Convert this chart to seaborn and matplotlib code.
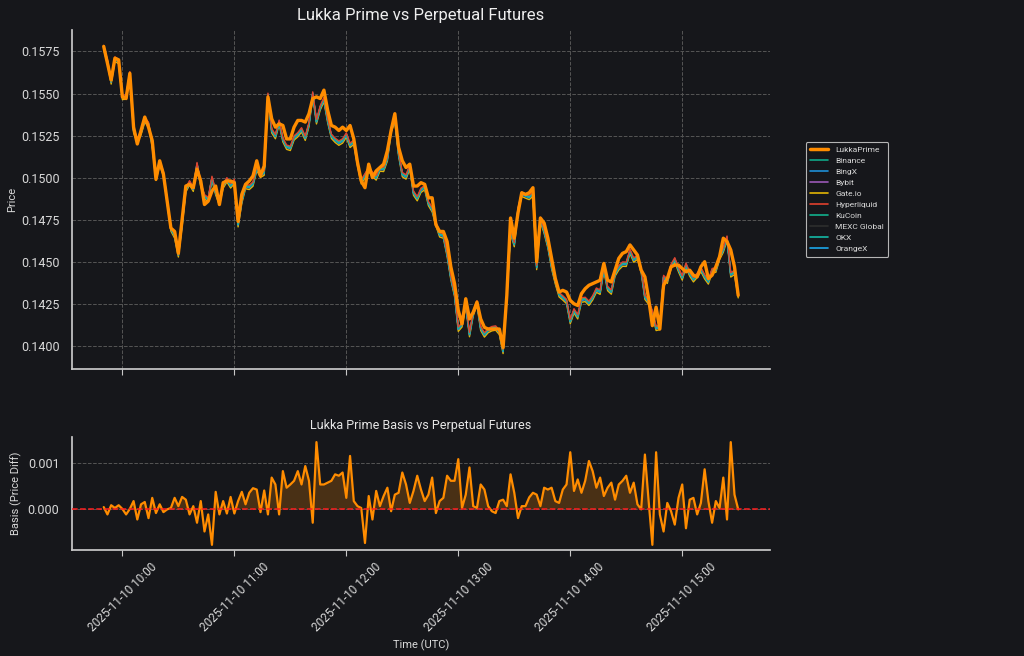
import numpy as np
import pandas as pd
import matplotlib
matplotlib.use("Agg")
import matplotlib.pyplot as plt
import matplotlib.dates as mdates
from matplotlib.lines import Line2D
from matplotlib.ticker import MultipleLocator, FormatStrFormatter
import seaborn as sns

# ---------------- data ----------------
start_time = "2025-11-10 09:50"
step = "2min"

lukka_price = [
    0.1578, 0.1568, 0.1558, 0.1571, 0.1570, 0.1548, 0.1547, 0.1562, 0.1530, 0.1520,
    0.1528, 0.1536, 0.1530, 0.1522, 0.1499, 0.1510, 0.1502, 0.1486, 0.1470, 0.1468,
    0.1455, 0.1475, 0.1495, 0.1496, 0.1494, 0.1505, 0.1498, 0.1484, 0.1486, 0.1492,
    0.1495, 0.1484, 0.1497, 0.1498, 0.1498, 0.1497, 0.1474, 0.1490, 0.1496, 0.1498,
    0.1501, 0.1510, 0.1501, 0.1507, 0.1548, 0.1535, 0.1530, 0.1532, 0.1531, 0.1523,
    0.1523, 0.1530, 0.1534, 0.1534, 0.1533, 0.1538, 0.1547,
    0.1548, 0.1547, 0.1552, 0.1540, 0.1531, 0.1530, 0.1528, 0.1530, 0.1528, 0.1531,
    0.1523, 0.1509, 0.1498, 0.1494, 0.1508, 0.1500, 0.1504, 0.1506, 0.1508, 0.1516,
    0.1528, 0.1538, 0.1518, 0.1510, 0.1506, 0.1508, 0.1495, 0.1495, 0.1497, 0.1496,
    0.1488, 0.1488, 0.1472, 0.1468, 0.1468, 0.1462, 0.1447, 0.1437, 0.1421, 0.1413,
    0.1428, 0.1416, 0.1420, 0.1426, 0.1416, 0.1411, 0.1410, 0.1410, 0.1410, 0.1410,
    0.1399, 0.1430, 0.1476, 0.1464, 0.1479, 0.1491,
    0.1490, 0.1491, 0.1494, 0.1450, 0.1476, 0.1473, 0.1464, 0.1452, 0.1440, 0.1432,
    0.1433, 0.1432, 0.1427, 0.1425, 0.1424, 0.1431, 0.1434, 0.1436, 0.1437, 0.1438,
    0.1439, 0.1449, 0.1439, 0.1438, 0.1445, 0.1452, 0.1455, 0.1456, 0.1460, 0.1457,
    0.1454, 0.1445, 0.1441, 0.1428, 0.1412, 0.1423, 0.1410, 0.1436, 0.1440, 0.1447,
    0.1448, 0.1448, 0.1446, 0.1444, 0.1445, 0.1442, 0.1441, 0.1447, 0.1450, 0.1440,
    0.1442, 0.1447, 0.1453, 0.1464, 0.1462, 0.1457, 0.1447, 0.1430,
]

basis = [
    0.00004, -0.00012, 0.00008, 0.00002, 0.00008, 0.0, -0.00012, 0.0, 0.00017, -0.00023,
    0.0001, 0.00015, -0.0002, 0.00024, -0.00009, 0.0001, -0.00007, -0.00001, 0.00002, 0.00024,
    0.00006, 0.00026, 0.0002, -0.00012, 0.00006, -0.0003, 0.00017, -0.00049, -0.00012, -0.00078,
    0.00037, -0.00012, 0.00017, -0.0001, 0.00026, -0.0001, 0.00017, 0.00037, 0.0001, 0.00035,
    0.00045, 0.00042, -0.00007, 0.0004, -0.00012, 0.00068, 0.00053, -0.00012, 0.00082, 0.00046,
    0.00053, 0.00061, 0.00082, 0.00053, 0.00093, 0.00061, -0.0003,
    0.00145, 0.00053, 0.00053, 0.00057, 0.00061, 0.00075, 0.00072, 0.00079, 0.00024, 0.00115,
    0.00017, 0.00006, 0.00002, -0.00074, 0.00028, -0.00023, 0.00039, 0.00006, 0.00028, 0.00046,
    -0.00005, 0.00031, 0.00035, 0.00079, 0.00053, 0.00013, 0.00039, 0.00072, 0.00042, 0.00017,
    0.00031, 0.00068, -0.00009, 0.00017, 0.00024, 0.00072, 0.00061, 0.00061, 0.00108, 0.00002,
    0.00031, 0.0009, 0.00006, 0.00002, 0.00053, 0.00042, 0.00006, -0.00005, -0.00009, 0.00017,
    0.0002, 0.00006, 0.00075, 0.00035, -0.0002, 0.00006,
    0.00006, 0.00025, 0.00035, 0.00031, 0.00006, 0.00046, 0.00042, 0.00046, 0.00017, 0.00013,
    0.00042, 0.00053, 0.00123, 0.00039, 0.00064, 0.00035, 0.00061, 0.00104, 0.00082, 0.00046,
    0.00068, 0.00028, 0.00046, 0.00057, 0.0002, 0.00053, 0.00061, 0.00072, 0.00035, 0.00057,
    0.0001, -0.00001, 0.00118, 0.00017, -0.00078, 0.00123, -0.00012, -0.00049, 0.00013, -0.00005,
    -0.00034, 0.00024, 0.00053, -0.00042, 0.0002, 0.00024, -0.00012, 0.00013, 0.00086, 0.00017,
    -0.0003, 0.00017, 0.00002, 0.00068, -0.00023, 0.00145, 0.00031, -0.00001,
]

exchanges = ["Binance", "BingX", "Bybit", "Gate.io", "Hyperliquid",
             "KuCoin", "MEXC Global", "OKX", "OrangeX"]
exchange_spread = [0.00002, -0.00005, 0.0, -0.00016, 0.00010,
                   0.00001, -0.00010, 0.00004, -0.00002]
exchange_colors = ["#0fa888", "#1e8fd6", "#9b59b6", "#e3b505", "#e0412e",
                   "#12b08c", "#2e2e2e", "#14b8a6", "#1ba7ea"]
draw_order = ["MEXC Global", "Gate.io", "Bybit", "OrangeX", "BingX",
              "Binance", "KuCoin", "OKX", "Hyperliquid"]

# ---------------- style ----------------
BG = "#16171b"
FG = "#d9d9d9"
sns.set_theme(style="dark")
plt.rcParams.update({
    "figure.facecolor": BG,
    "axes.facecolor": BG,
    "savefig.facecolor": BG,
    "axes.edgecolor": "#c8c8c8",
    "text.color": FG,
    "axes.labelcolor": FG,
    "xtick.color": FG,
    "ytick.color": FG,
})
plt.rcParams["font.family"] = ["Roboto", "DejaVu Sans"]

times = pd.date_range(start_time, periods=len(lukka_price), freq=step)
price = np.array(lukka_price)
b = np.array(basis)
perp_mean = price - b

spread_of = dict(zip(exchanges, exchange_spread))
frames = []
for name in draw_order:
    frames.append(pd.DataFrame({"time": times, "price": perp_mean + spread_of[name],
                                "exchange": name}))
df_ex = pd.concat(frames, ignore_index=True)
df_lukka = pd.DataFrame({"time": times, "price": price})
df_basis = pd.DataFrame({"time": times, "basis": b})

fig = plt.figure(figsize=(10.24, 6.56), dpi=100)
ax1 = fig.add_axes([0.0703, 0.4375, 0.6816, 0.5168])
ax2 = fig.add_axes([0.0703, 0.1616, 0.6816, 0.1723], sharex=ax1)

# ---------------- top: prices ----------------
sns.lineplot(data=df_ex, x="time", y="price", hue="exchange", hue_order=draw_order,
             palette=dict(zip(exchanges, exchange_colors)), linewidth=1.0,
             ax=ax1, legend=False)
sns.lineplot(data=df_lukka, x="time", y="price", color="#ff8c00",
             linewidth=2.4, ax=ax1)

ax1.set_title("Lukka Prime vs Perpetual Futures", fontsize=12, color="#eeeeee", pad=7)
ax1.set_ylabel("Price", fontsize=8, labelpad=8)
ax1.set_xlabel("")
ax1.yaxis.set_major_locator(MultipleLocator(0.0025))
ax1.yaxis.set_major_formatter(FormatStrFormatter("%.4f"))
ax1.grid(True, linestyle="--", color="#555555", linewidth=0.7)
plt.setp(ax1.get_xticklabels(), visible=False)

handles = [Line2D([0], [0], color="#ff8c00", lw=2.5)] + \
          [Line2D([0], [0], color=c, lw=1.2) for c in exchange_colors]
labels = ["LukkaPrime"] + exchanges
leg = ax1.legend(handles, labels, loc="center left", bbox_to_anchor=(1.045, 0.5),
                 fontsize=6.0, frameon=True, facecolor=BG, edgecolor="#b5b5b5",
                 framealpha=1.0, labelcolor=FG, borderpad=0.55, labelspacing=0.5,
                 handlelength=2.2)
leg.get_frame().set_linewidth(0.8)

# ---------------- bottom: basis ----------------
sns.lineplot(data=df_basis, x="time", y="basis", color="#ff8c00", linewidth=1.6, ax=ax2)
ax2.fill_between(times, 0, b, where=b > 0, interpolate=True, color="#ff8c00",
                 alpha=0.22, linewidth=0)
ax2.axhline(0, color="#ff1f1f", linestyle="--", linewidth=1.1, zorder=5)
ax2.set_title("Lukka Prime Basis vs Perpetual Futures", fontsize=9, color="#e6e6e6", pad=6)
ax2.set_ylabel("Basis (Price Diff)", fontsize=8, labelpad=8)
ax2.set_xlabel("Time (UTC)", fontsize=8)
ax2.yaxis.set_major_locator(MultipleLocator(0.001))
ax2.yaxis.set_major_formatter(FormatStrFormatter("%.3f"))
ax2.yaxis.grid(True, linestyle="--", color="#555555", linewidth=0.7)
ax2.xaxis.grid(False)

ax2.xaxis.set_major_locator(mdates.HourLocator())
ax2.xaxis.set_major_formatter(mdates.DateFormatter("%Y-%m-%d %H:%M"))
for lab in ax2.get_xticklabels():
    lab.set_rotation(45)
    lab.set_ha("center")

for ax in (ax1, ax2):
    sns.despine(ax=ax)
    ax.spines["left"].set_color("#c8c8c8")
    ax.spines["bottom"].set_color("#c8c8c8")
    ax.tick_params(axis="x", bottom=True, length=4, width=0.8, color="#c8c8c8", labelsize=8.5)
    ax.tick_params(axis="y", left=False, labelsize=9, pad=3)

ax1.yaxis.set_label_coords(-0.078, 0.5)
ax2.yaxis.set_label_coords(-0.072, 0.5)

fig.savefig("out.png", dpi=100)
